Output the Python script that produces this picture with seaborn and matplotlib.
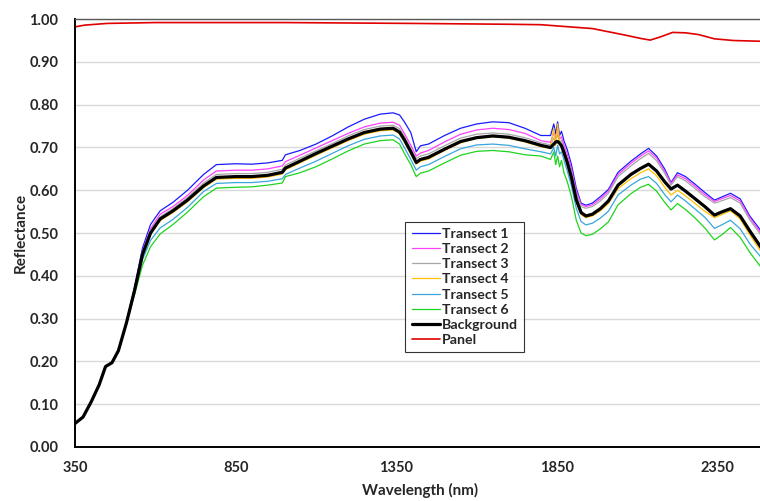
import pandas as pd
import seaborn as sns
import matplotlib.pyplot as plt

# wavelength grid (nm)
wl = [350, 375, 400, 425, 445, 465, 485, 510, 535, 560,
      585, 615, 655, 700, 750, 790, 850, 900, 950, 995,
      1005, 1050, 1100, 1150, 1200, 1250, 1300, 1340, 1360, 1375,
      1395, 1412, 1425, 1450, 1500, 1550, 1600, 1650, 1700, 1750,
      1800, 1830, 1840, 1846, 1852, 1858, 1864, 1872, 1882, 1895,
      1910, 1925, 1940, 1960, 1985, 2010, 2040, 2080, 2110, 2135,
      2160, 2185, 2205, 2225, 2250, 2280, 2310, 2340, 2365, 2390,
      2420, 2450, 2480, 2500]

transect1 = [.055, .070, .105, .145, .190, .198, .226, .292, .372, .465,
             .520, .552, .572, .600, .637, .660, .662, .661, .664, .670,
             .683, .693, .708, .727, .748, .766, .778, .781, .776, .760,
             .735, .690, .704, .708, .728, .745, .755, .760, .758, .745,
             .728, .728, .755, .732, .760, .728, .738, .715, .695, .660,
             .605, .570, .565, .570, .585, .602, .642, .668, .685, .698,
             .680, .650, .618, .641, .632, .614, .595, .577, .585, .593,
             .580, .540, .510, .490]
transect2 = [.055, .070, .105, .145, .189, .197, .226, .291, .369, .458,
             .510, .544, .562, .588, .624, .645, .647, .647, .650, .657,
             .667, .682, .699, .716, .733, .748, .757, .759, .752, .733,
             .705, .680, .687, .693, .713, .731, .741, .745, .742, .733,
             .716, .712, .735, .722, .745, .720, .725, .705, .685, .650,
             .598, .567, .562, .566, .580, .598, .637, .663, .680, .692,
             .675, .645, .616, .636, .627, .609, .590, .574, .581, .588,
             .575, .536, .505, .485]
transect3 = [.055, .070, .105, .145, .188, .197, .225, .290, .367, .454,
             .505, .538, .557, .583, .617, .637, .639, .639, .642, .649,
             .659, .675, .692, .709, .727, .742, .750, .752, .744, .726,
             .697, .674, .680, .685, .704, .722, .731, .734, .731, .723,
             .711, .706, .722, .716, .730, .715, .716, .698, .675, .642,
             .592, .562, .558, .562, .575, .593, .632, .657, .674, .686,
             .669, .640, .612, .632, .622, .604, .585, .570, .576, .583,
             .570, .531, .500, .480]
transect4 = [.055, .070, .105, .145, .188, .197, .225, .290, .364, .448,
             .497, .529, .548, .573, .606, .626, .628, .628, .631, .638,
             .648, .664, .682, .699, .716, .731, .739, .741, .732, .713,
             .685, .661, .668, .673, .693, .711, .721, .725, .722, .713,
             .702, .697, .745, .705, .755, .712, .700, .683, .660, .624,
             .572, .543, .536, .540, .552, .569, .604, .627, .641, .650,
             .634, .607, .589, .600, .587, .569, .551, .536, .544, .552,
             .533, .496, .462, .440]
transect5 = [.055, .070, .105, .145, .188, .197, .225, .289, .360, .438,
             .483, .512, .532, .560, .597, .616, .618, .618, .621, .627,
             .637, .652, .668, .686, .704, .719, .727, .729, .720, .700,
             .672, .647, .655, .660, .679, .697, .706, .708, .705, .697,
             .690, .685, .700, .680, .705, .685, .690, .670, .645, .610,
             .558, .527, .519, .523, .535, .551, .589, .612, .626, .632,
             .616, .590, .573, .589, .575, .556, .537, .511, .520, .530,
             .510, .475, .448, .430]
transect6 = [.054, .069, .104, .144, .187, .197, .224, .287, .355, .425,
             .468, .498, .520, .549, .585, .605, .607, .608, .612, .617,
             .632, .641, .655, .673, .692, .708, .716, .718, .708, .686,
             .660, .632, .640, .645, .664, .682, .691, .693, .690, .683,
             .680, .672, .690, .660, .680, .655, .670, .640, .620, .585,
             .530, .500, .494, .497, .510, .526, .566, .592, .607, .614,
             .598, .572, .554, .569, .555, .535, .512, .484, .497, .513,
             .490, .455, .425, .405]
background = [.055, .070, .105, .145, .188, .197, .225, .290, .365, .450,
              .500, .533, .552, .577, .610, .630, .632, .632, .635, .642,
              .652, .668, .686, .703, .720, .735, .743, .745, .736, .718,
              .690, .665, .672, .677, .696, .714, .723, .727, .724, .716,
              .705, .700, .708, .713, .714, .710, .704, .688, .665, .630,
              .578, .548, .540, .544, .557, .575, .612, .637, .651, .661,
              .645, .620, .603, .612, .598, .580, .562, .542, .550, .557,
              .540, .505, .472, .450]

panel_wl = [350, 380, 450, 600, 1000, 1400, 1700, 1800, 1870, 1960,
            2060, 2110, 2140, 2170, 2210, 2250, 2290, 2340, 2400, 2500]
panel = [.982, .986, .990, .992, .992, .990, .988, .987, .983, .978,
         .963, .955, .951, .958, .969, .968, .964, .954, .950, .948]

names = ['Transect 1', 'Transect 2', 'Transect 3', 'Transect 4',
         'Transect 5', 'Transect 6', 'Background']
series = [transect1, transect2, transect3, transect4, transect5, transect6, background]
colors = ['#1a1aff', '#ff40ff', '#a6a6a6', '#ffc000', '#38a6dc', '#1ed41e', '#000000']
widths = [0.9, 0.9, 0.9, 0.9, 0.9, 0.9, 2.3]

sns.set_style('white')
plt.rcParams['font.family'] = ['Lato', 'DejaVu Sans']
plt.rcParams['font.weight'] = 'bold'

fig = plt.figure(figsize=(7.6, 5.01), dpi=100)
ax = fig.add_axes([0.0987, 0.1078, 0.909, 0.854])

for name, vals, c, w in zip(names, series, colors, widths):
    df = pd.DataFrame({'wl': wl, 'r': vals})
    sns.lineplot(data=df, x='wl', y='r', ax=ax, color=c, lw=w, label=name)
sns.lineplot(x=panel_wl, y=panel, ax=ax, color='#e00000', lw=1.2, label='Panel')

ax.set_xlim(350, 2500)
ax.set_ylim(0, 1.0)
ax.set_xticks([350, 850, 1350, 1850, 2350])
ax.set_yticks([i / 10 for i in range(11)])
ax.set_yticklabels([f'{i / 10:.2f}' for i in range(11)])
ax.tick_params(axis='both', length=0, labelsize=10.5)
ax.tick_params(axis='y', pad=12)
ax.tick_params(axis='x', pad=10)
for lab in ax.get_xticklabels() + ax.get_yticklabels():
    lab.set_fontweight('bold')
ax.yaxis.grid(True, color='#d9d9d9', lw=1)
ax.set_axisbelow(True)

for s in ['left', 'bottom']:
    ax.spines[s].set_color('black')
    ax.spines[s].set_linewidth(1.4)
ax.spines['top'].set_color('#595959')
ax.spines['top'].set_linewidth(1.0)
ax.spines['right'].set_visible(False)

ax.set_xlabel('Wavelength (nm)', fontsize=11, fontweight='bold', labelpad=6)
ax.set_ylabel('Reflectance', fontsize=11, fontweight='bold', labelpad=1)

leg = ax.legend(loc='center', bbox_to_anchor=(0.564, 0.374), fontsize=10.2,
                frameon=True, fancybox=False, handlelength=2.0, handletextpad=0.1,
                labelspacing=0.22, borderpad=0.45, borderaxespad=0)
leg.get_frame().set_edgecolor('black')
leg.get_frame().set_linewidth(0.8)
for t in leg.get_texts():
    t.set_fontweight('bold')

fig.savefig('out.png', dpi=100)
